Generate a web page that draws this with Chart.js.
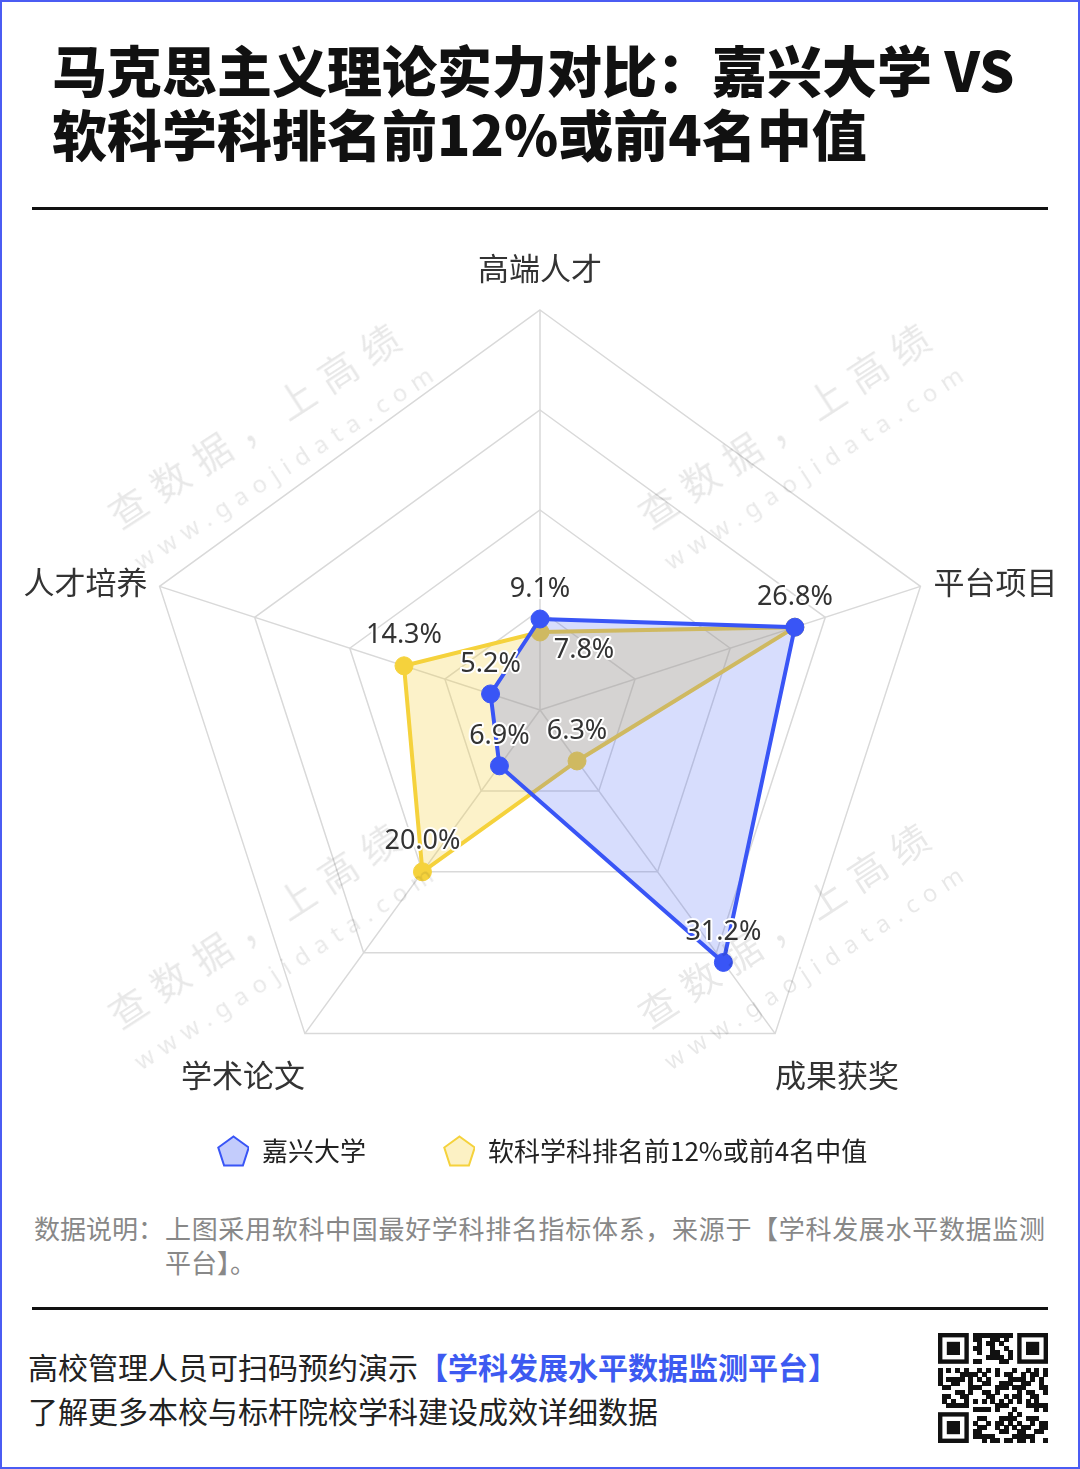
<!DOCTYPE html>
<html>
<head>
<meta charset="utf-8">
<script src="https://cdn.jsdelivr.net/npm/chart.js@4.4.1/dist/chart.umd.min.js"></script>
<style>
html,body{margin:0;padding:0;background:#fff;}
body{width:1080px;height:1469px;position:relative;overflow:hidden;font-family:"Noto Sans CJK SC","Noto Sans",sans-serif;}
#frame{position:absolute;left:0;top:0;width:1080px;height:1469px;box-sizing:border-box;border:2px solid #4b5cf3;z-index:20;pointer-events:none;}
#title{position:absolute;left:52px;top:36px;font-size:55px;font-weight:900;line-height:64px;color:#111;white-space:nowrap;}
.rule{position:absolute;left:32px;width:1016px;height:3px;background:#111;}
#chartBox{position:absolute;left:0;top:230px;width:1080px;height:970px;}
#note{position:absolute;left:34px;top:1211px;width:1011px;display:flex;font-size:26px;line-height:34px;color:#888;}
#note .lab{flex:none;width:131px;white-space:nowrap;}
#note .txt{flex:1;text-align:justify;}
#foot{position:absolute;left:28px;top:1344px;font-size:30px;line-height:44px;color:#222;white-space:nowrap;}
#foot b{color:#3d5af1;font-weight:700;}
#qr{position:absolute;left:938px;top:1333px;}
.wm{position:absolute;transform:translate(-50%,-50%) rotate(-33deg);text-align:center;color:rgba(0,0,0,0.09);white-space:nowrap;z-index:15;pointer-events:none;}
.wm .a{font-size:38px;letter-spacing:12px;line-height:53px;}
.wm .b{font-family:"Noto Sans",sans-serif;font-size:24px;letter-spacing:8px;line-height:53px;}
</style>
</head>
<body>
<div id="frame"></div>
<div id="title">马克思主义理论实力对比：嘉兴大学 VS<br>软科学科排名前12%或前4名中值</div>
<div class="rule" style="top:207px"></div>
<div id="chartBox"><canvas id="c" width="1080" height="970" style="width:1080px;height:970px"></canvas></div>
<div id="note"><div class="lab">数据说明：</div><div class="txt">上图采用软科中国最好学科排名指标体系，来源于【学科发展水平数据监测平台】。</div></div>
<div class="rule" style="top:1307px"></div>
<div id="foot">高校管理人员可扫码预约演示<b>【学科发展水平数据监测平台】</b><br>了解更多本校与标杆院校学科建设成效详细数据</div>
<canvas id="qr" width="110" height="110"></canvas>
<div class="wm" style="left:272px;top:443px"><div class="a">查数据，上高绩</div><div class="b">www.gaojidata.com</div></div>
<div class="wm" style="left:802px;top:443px"><div class="a">查数据，上高绩</div><div class="b">www.gaojidata.com</div></div>
<div class="wm" style="left:272px;top:943px"><div class="a">查数据，上高绩</div><div class="b">www.gaojidata.com</div></div>
<div class="wm" style="left:802px;top:943px"><div class="a">查数据，上高绩</div><div class="b">www.gaojidata.com</div></div>
<script>
// ---- data ----
const categories = ['高端人才', '平台项目', '成果获奖', '学术论文', '人才培养'];
const seriesNames = ['嘉兴大学', '软科学科排名前12%或前4名中值'];
const jiaxingValues = [9.1, 26.8, 31.2, 6.9, 5.2];
const benchmarkValues = [7.8, 26.8, 6.3, 20.0, 14.3];
const axisMin = 0;
const axisMax = 40;
const axisStep = 10;

// ---- styles ----
const BLUE = 'rgb(57,85,246)';
const BLUE_FILL = 'rgba(57,85,246,0.2)';
const YEL = 'rgb(245,210,60)';
const YEL_FILL = 'rgba(245,210,60,0.28)';
const FONT = '"Noto Sans CJK SC", "Noto Sans", sans-serif';

function pentagonIcon(stroke, fill, w) {
  const c = document.createElement('canvas');
  c.width = w; c.height = 34;
  const g = c.getContext('2d');
  const cx = w - 15.5, cy = 18.5, r = 16;
  g.beginPath();
  for (let k = 0; k < 5; k++) {
    const a = -Math.PI / 2 + k * 2 * Math.PI / 5;
    const x = cx + r * Math.cos(a), y = cy + r * Math.sin(a);
    if (k === 0) g.moveTo(x, y); else g.lineTo(x, y);
  }
  g.closePath();
  g.fillStyle = fill; g.fill();
  g.lineWidth = 2; g.strokeStyle = stroke; g.stroke();
  return c;
}
const ICON_W = 81;
const icons = [
  pentagonIcon(BLUE, 'rgba(57,85,246,0.3)', ICON_W),
  pentagonIcon(YEL, 'rgba(245,210,60,0.3)', ICON_W)
];

const axisLabelPlugin = {
  id: 'axisLabels',
  afterDraw(chart) {
    const s = chart.scales.r, ctx = chart.ctx;
    ctx.save();
    ctx.font = '31px ' + FONT;
    ctx.fillStyle = '#333';
    ctx.textBaseline = 'middle';
    chart.data.labels.forEach((lab, i) => {
      const p = s.getPointPosition(i, s.drawingArea);
      const a = s.getIndexAngle(i);
      const sn = Math.sin(a), cs = Math.cos(a);
      let x = p.x, y = p.y, align;
      if (Math.abs(sn) < 0.1) align = 'center'; else align = sn > 0 ? 'left' : 'right';
      if (cs > 0.9) y -= 42;
      else if (cs < -0.5) y += 42;
      else { y -= 4; x += sn > 0 ? 13 : -12; }
      ctx.textAlign = align;
      ctx.fillText(lab, x, y);
    });
    ctx.restore();
  }
};

const valueLabelPlugin = {
  id: 'valueLabels',
  afterDatasetsDraw(chart) {
    const ctx = chart.ctx;
    ctx.save();
    ctx.font = '27px "Noto Sans", "Noto Sans CJK SC", sans-serif';
    ctx.textAlign = 'center';
    ctx.textBaseline = 'middle';
    ctx.lineWidth = 4;
    ctx.lineJoin = 'round';
    ctx.strokeStyle = '#fff';
    ctx.fillStyle = '#333';
    const placed = [];
    chart.data.datasets.forEach((ds, di) => {
      const meta = chart.getDatasetMeta(di);
      meta.data.forEach((pt, i) => {
        const txt = ds.data[i].toFixed(1) + '%';
        const w = ctx.measureText(txt).width, h = 24;
        let x = pt.x, y = pt.y - 30;
        const hit = (bx, by) => placed.find(b => Math.abs(b.x - bx) < (b.w + w) / 2 && Math.abs(b.y - by) < (b.h + h) / 2);
        const o = hit(x, y);
        if (o) {
          if (o.t === txt) return;
          x = pt.x + 44; y = pt.y + 18;
        }
        placed.push({x, y, w, h, t: txt});
        ctx.strokeText(txt, x, y);
        ctx.fillText(txt, x, y);
      });
    });
    ctx.restore();
  }
};

new Chart(document.getElementById('c'), {
  type: 'radar',
  data: {
    labels: categories,
    datasets: [
      {
        label: seriesNames[0], data: jiaxingValues,
        borderColor: BLUE, backgroundColor: BLUE_FILL, borderWidth: 4, fill: true,
        pointRadius: 9, pointHoverRadius: 9, pointBackgroundColor: BLUE, pointBorderColor: BLUE, pointBorderWidth: 1
      },
      {
        label: seriesNames[1], data: benchmarkValues,
        borderColor: YEL, backgroundColor: YEL_FILL, borderWidth: 4, fill: true,
        pointRadius: 9, pointHoverRadius: 9, pointBackgroundColor: YEL, pointBorderColor: YEL, pointBorderWidth: 1
      }
    ]
  },
  options: {
    responsive: false,
    animation: false,
    devicePixelRatio: 1,
    layout: {padding: {top: 80, left: 140, right: 140, bottom: 26}},
    scales: {
      r: {
        min: axisMin, max: axisMax,
        ticks: {display: false, stepSize: axisStep},
        grid: {color: '#d9d9d9', lineWidth: 1.5},
        angleLines: {color: '#d9d9d9', lineWidth: 1.5},
        pointLabels: {display: false}
      }
    },
    plugins: {
      tooltip: {enabled: false},
      legend: {
        position: 'bottom',
        align: 'start',
        labels: {
          usePointStyle: true,
          pointStyleWidth: ICON_W,
          padding: 28,
          color: '#222',
          font: {size: 26, family: FONT},
          generateLabels(chart) {
            const items = Chart.defaults.plugins.legend.labels.generateLabels(chart);
            items.forEach((it, i) => { it.pointStyle = icons[i]; });
            return items;
          }
        }
      }
    }
  },
  plugins: [axisLabelPlugin, valueLabelPlugin]
});

// decorative QR-like code
(function () {
  const g = document.getElementById('qr').getContext('2d');
  const N = 25, m = 110 / N;
  g.fillStyle = '#fff'; g.fillRect(0, 0, 110, 110);
  g.fillStyle = '#111';
  const inFinder = (x, y) => (x < 8 && y < 8) || (x > N - 9 && y < 8) || (x < 8 && y > N - 9);
  for (let y = 0; y < N; y++) {
    for (let x = 0; x < N; x++) {
      if (inFinder(x, y)) continue;
      const v = (x * 37 + y * 91 + x * y * 13 + ((x ^ y) * 7)) % 11;
      if (v < 5) g.fillRect(Math.floor(x * m), Math.floor(y * m), Math.ceil(m), Math.ceil(m));
    }
  }
  function finder(fx, fy) {
    g.fillStyle = '#111'; g.fillRect(fx * m, fy * m, 7 * m, 7 * m);
    g.fillStyle = '#fff'; g.fillRect((fx + 1) * m, (fy + 1) * m, 5 * m, 5 * m);
    g.fillStyle = '#111'; g.fillRect((fx + 2) * m, (fy + 2) * m, 3 * m, 3 * m);
  }
  finder(0, 0); finder(N - 7, 0); finder(0, N - 7);
})();
</script>
</body>
</html>
